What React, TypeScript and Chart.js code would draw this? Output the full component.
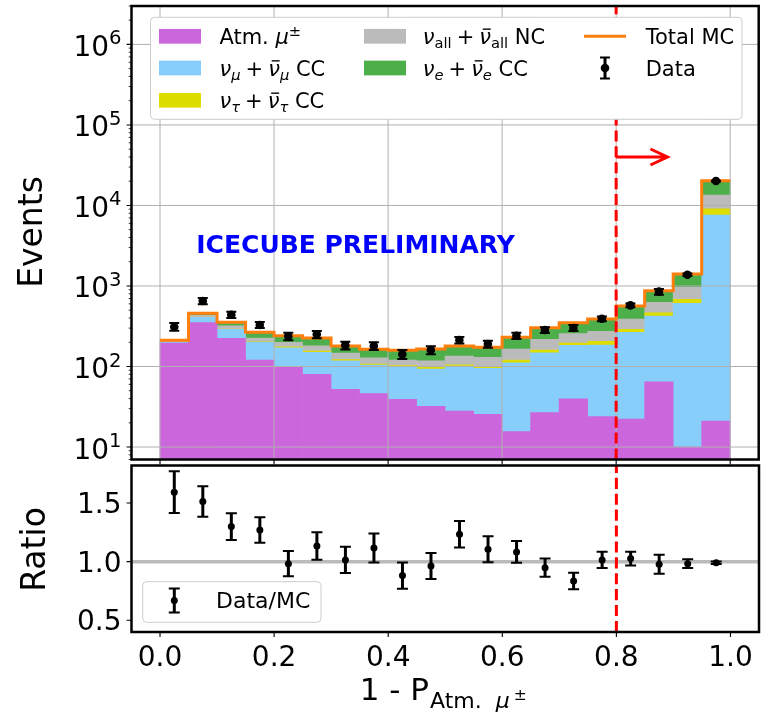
import React, { useEffect, useRef } from "react";
import { Chart, registerables } from "chart.js";
Chart.register(...registerables);

// ---------------- data ----------------
const BIN_EDGES = [0, 0.05, 0.1, 0.15, 0.2, 0.25, 0.3, 0.35, 0.4, 0.45, 0.5, 0.55, 0.6, 0.65, 0.7, 0.75, 0.8, 0.85, 0.9, 0.95, 1.0];
const BIN_CENTERS = [0.025, 0.075, 0.125, 0.175, 0.225, 0.275, 0.325, 0.375, 0.425, 0.475, 0.525, 0.575, 0.625, 0.675, 0.725, 0.775, 0.825, 0.875, 0.925, 0.975];

const ATM_MU = [196, 350, 224, 120, 100, 80, 52, 46, 39, 32, 28, 25.5, 15.5, 26.7, 39.8, 23.8, 22.3, 64.7, 10, 21];
const NUMU_CC = [7, 58, 66, 80, 71, 70, 66, 58, 61, 61, 73, 69.5, 95.5, 121, 143, 161, 244, 359, 600, 7600];
const NUTAU_CC = [0.5, 2, 2, 3, 4, 5, 4, 3, 3, 5, 4, 4, 9, 12, 13, 21, 24, 42, 74, 1440];
const NC_ALL = [3, 22, 29, 23, 25, 25, 25, 21, 17, 20, 30, 31, 45, 58, 60, 68, 99, 161, 280, 4440];
const NUE_CC = [5, 26, 33, 40, 41, 46, 33, 36, 39, 47, 45, 43, 66, 85, 94, 115, 176, 248, 445, 6800];

const DATA = [312, 651, 440, 328, 237, 251, 183, 180, 142, 160, 213, 190, 241, 284, 301, 392, 575, 850, 1380, 20100];

const RATIO = [1.592, 1.512, 1.299, 1.27, 0.983, 1.134, 1.015, 1.117, 0.881, 0.963, 1.234, 1.106, 1.083, 0.949, 0.835, 1.015, 1.026, 0.978, 0.983, 0.991];
const RATIO_ERR = [0.178, 0.13, 0.114, 0.108, 0.107, 0.117, 0.112, 0.124, 0.112, 0.11, 0.113, 0.111, 0.093, 0.077, 0.071, 0.07, 0.058, 0.081, 0.038, 0.01];

const X_TICKS = [0, 0.2, 0.4, 0.6, 0.8, 1.0];
const X_TICK_LABELS = ["0.0", "0.2", "0.4", "0.6", "0.8", "1.0"];
const Y_TICKS_TOP = [1e1, 1e2, 1e3, 1e4, 1e5, 1e6];
const Y_TICK_EXP = ["1", "2", "3", "4", "5", "6"];
const Y_TICKS_RATIO = [0.5, 1.0, 1.5];
const Y_TICK_LABELS_RATIO = ["0.5", "1.0", "1.5"];

const CUT_X = 0.8;
const ARROW_X0 = 0.8;
const ARROW_X1 = 0.89;
const ARROW_Y = 4e4;
const PRELIM_X = 0.343;
const PRELIM_Y = 3.1e3;

// ---------------- layout / style ----------------
const W = 763;
const H = 716;
const LEFT = 131.5;
const RIGHT = 761.5;
const TOP_T = 6;
const TOP_B = 459.5;
const TOP_CANVAS_H = 470;
const OFF = 460;
const RAT_T = 465.5;
const RAT_B = 632;

const C_ATM = "#cc66dd";
const C_NUMU = "#87cefa";
const C_NUTAU = "#dddd00";
const C_NC = "#bbbbbb";
const C_NUE = "#4daf4a";
const C_TOTAL = "#ff7f0e";
const GRID = "#b0b0b0";

const TICK_FS = 28;
const LABEL_FS = 33;
const LEG_FS = 21;
const RLEG_FS = 22;

type Seg = { t: string; s: number; it?: boolean; b?: boolean; dy?: number; bar?: boolean; gap?: number };

function font(size: number, it = false, b = false) {
  return `${it ? "italic " : ""}${b ? "bold " : ""}${size}px "DejaVu Sans", sans-serif`;
}

function drawSegs(ctx: CanvasRenderingContext2D, x: number, y: number, segs: Seg[], align: "left" | "right" | "center") {
  ctx.textAlign = "left";
  ctx.textBaseline = "alphabetic";
  const ws = segs.map((sg) => {
    ctx.font = font(sg.s, sg.it, sg.b);
    return ctx.measureText(sg.t).width + (sg.gap || 0);
  });
  const tot = ws.reduce((a, b) => a + b, 0);
  let cx = align === "left" ? x : align === "right" ? x - tot : x - tot / 2;
  segs.forEach((sg, i) => {
    ctx.font = font(sg.s, sg.it, sg.b);
    const gx = cx + (sg.gap || 0);
    const by = y + (sg.dy || 0);
    ctx.fillText(sg.t, gx, by);
    if (sg.bar) {
      const w = ws[i] - (sg.gap || 0);
      ctx.save();
      ctx.lineWidth = Math.max(1, sg.s * 0.065);
      ctx.strokeStyle = ctx.fillStyle as string;
      ctx.beginPath();
      ctx.moveTo(gx + w * 0.3, by - sg.s * 0.7);
      ctx.lineTo(gx + w * 0.98, by - sg.s * 0.7);
      ctx.stroke();
      ctx.restore();
    }
    cx += ws[i];
  });
}

function nuLabel(sub: string, subIt: boolean, tail: string, F: number): Seg[] {
  return [
    { t: "ν", s: F, it: true },
    { t: sub, s: F * 0.7, it: subIt, dy: F * 0.22 },
    { t: "+", s: F, gap: F * 0.24 },
    { t: "ν", s: F, it: true, bar: true, gap: F * 0.24 },
    { t: sub, s: F * 0.7, it: subIt, dy: F * 0.22 },
    { t: " " + tail, s: F },
  ];
}

const LEGEND_LABELS: Seg[][] = [
  [
    { t: "Atm. ", s: LEG_FS },
    { t: "μ", s: LEG_FS, it: true },
    { t: "±", s: LEG_FS * 0.7, dy: -LEG_FS * 0.38 },
  ],
  nuLabel("μ", true, "CC", LEG_FS),
  nuLabel("τ", true, "CC", LEG_FS),
  nuLabel("all", false, "NC", LEG_FS),
  nuLabel("e", true, "CC", LEG_FS),
  [{ t: "Total MC", s: LEG_FS }],
  [{ t: "Data", s: LEG_FS }],
];
const LEGEND_COLORS = [C_ATM, C_NUMU, C_NUTAU, C_NC, C_NUE];

function roundRect(ctx: CanvasRenderingContext2D, x0: number, y0: number, x1: number, y1: number, r: number) {
  ctx.beginPath();
  ctx.moveTo(x0 + r, y0);
  ctx.lineTo(x1 - r, y0);
  ctx.quadraticCurveTo(x1, y0, x1, y0 + r);
  ctx.lineTo(x1, y1 - r);
  ctx.quadraticCurveTo(x1, y1, x1 - r, y1);
  ctx.lineTo(x0 + r, y1);
  ctx.quadraticCurveTo(x0, y1, x0, y1 - r);
  ctx.lineTo(x0, y0 + r);
  ctx.quadraticCurveTo(x0, y0, x0 + r, y0);
  ctx.closePath();
}

function errBar(ctx: CanvasRenderingContext2D, px: number, y0: number, y1: number, cap: number, lw: number) {
  ctx.lineWidth = lw;
  ctx.beginPath();
  ctx.moveTo(px, y0);
  ctx.lineTo(px, y1);
  ctx.stroke();
  ctx.lineWidth = 2;
  ctx.beginPath();
  ctx.moveTo(px - cap, y0);
  ctx.lineTo(px + cap, y0);
  ctx.moveTo(px - cap, y1);
  ctx.lineTo(px + cap, y1);
  ctx.stroke();
}

function dashedCut(chart: any) {
  const { ctx, chartArea: a, scales } = chart;
  const px = scales.x.getPixelForValue(CUT_X);
  ctx.save();
  ctx.strokeStyle = "#ff0000";
  ctx.lineWidth = 3;
  ctx.setLineDash([11.1, 4.8]);
  ctx.beginPath();
  ctx.moveTo(px, a.bottom);
  ctx.lineTo(px, a.top);
  ctx.stroke();
  ctx.restore();
}

function frame(chart: any) {
  const { ctx, chartArea: a } = chart;
  ctx.save();
  ctx.strokeStyle = "#000";
  ctx.lineWidth = 2.5;
  ctx.strokeRect(a.left, a.top, a.right - a.left, a.bottom - a.top);
  ctx.restore();
}

const TOTAL = BIN_CENTERS.map((_, i) => ATM_MU[i] + NUMU_CC[i] + NUTAU_CC[i] + NC_ALL[i] + NUE_CC[i]);

const topPlugin = {
  id: "topDecor",
  afterDatasetDraw(chart: any, args: any) {
    if (args.index !== 0) return;
    const { ctx, chartArea: a, scales } = chart;
    ctx.save();
    ctx.strokeStyle = GRID;
    ctx.lineWidth = 1;
    ctx.beginPath();
    X_TICKS.forEach((v) => {
      const p = scales.x.getPixelForValue(v);
      ctx.moveTo(p, a.top);
      ctx.lineTo(p, a.bottom);
    });
    Y_TICKS_TOP.forEach((v) => {
      const p = scales.y.getPixelForValue(v);
      ctx.moveTo(a.left, p);
      ctx.lineTo(a.right, p);
    });
    ctx.stroke();
    ctx.restore();
  },
  afterDatasetsDraw(chart: any) {
    const { ctx, scales } = chart;
    dashedCut(chart);
    ctx.save();
    ctx.strokeStyle = "#000";
    BIN_CENTERS.forEach((xv, i) => {
      const e = (DATA[i] * RATIO_ERR[i]) / RATIO[i];
      const px = scales.x.getPixelForValue(xv);
      errBar(ctx, px, scales.y.getPixelForValue(DATA[i] + e), scales.y.getPixelForValue(DATA[i] - e), 5, 3);
    });
    ctx.restore();
  },
  afterDraw(chart: any) {
    const { ctx, chartArea: a, scales } = chart;
    const x = scales.x;
    const y = scales.y;
    frame(chart);
    ctx.save();
    ctx.strokeStyle = "#000";
    ctx.fillStyle = "#000";
    ctx.lineWidth = 1.1;
    ctx.beginPath();
    X_TICKS.forEach((v) => {
      const p = x.getPixelForValue(v);
      ctx.moveTo(p, a.bottom);
      ctx.lineTo(p, a.bottom + 4.9);
    });
    Y_TICKS_TOP.forEach((v) => {
      const p = y.getPixelForValue(v);
      ctx.moveTo(a.left, p);
      ctx.lineTo(a.left - 4.9, p);
    });
    ctx.stroke();
    ctx.lineWidth = 0.8;
    ctx.beginPath();
    for (let d = 0; d <= 6; d++) {
      for (let k = 2; k <= 9; k++) {
        const v = k * Math.pow(10, d);
        if (v < y.min || v > y.max) continue;
        const p = y.getPixelForValue(v);
        ctx.moveTo(a.left, p);
        ctx.lineTo(a.left - 2.8, p);
      }
    }
    ctx.stroke();
    Y_TICKS_TOP.forEach((v, i) => {
      const p = y.getPixelForValue(v);
      drawSegs(ctx, a.left - 10, p + 11.5, [
        { t: "10", s: TICK_FS },
        { t: Y_TICK_EXP[i], s: TICK_FS * 0.7, dy: -11.5 },
      ], "right");
    });
    ctx.save();
    ctx.translate(42, 232);
    ctx.rotate(-Math.PI / 2);
    ctx.font = font(LABEL_FS);
    ctx.textAlign = "center";
    ctx.textBaseline = "alphabetic";
    ctx.fillText("Events", 0, 0);
    ctx.restore();
    ctx.fillStyle = "#0000ff";
    ctx.font = font(25, false, true);
    ctx.textAlign = "center";
    ctx.textBaseline = "middle";
    ctx.fillText("ICECUBE PRELIMINARY", x.getPixelForValue(PRELIM_X), y.getPixelForValue(PRELIM_Y));
    const ax0 = x.getPixelForValue(ARROW_X0);
    const ax1 = x.getPixelForValue(ARROW_X1);
    const ay = y.getPixelForValue(ARROW_Y);
    ctx.strokeStyle = "#ff0000";
    ctx.lineWidth = 3;
    ctx.lineCap = "butt";
    ctx.beginPath();
    ctx.moveTo(ax0, ay);
    ctx.lineTo(ax1, ay);
    ctx.moveTo(ax1 - 17, ay - 8);
    ctx.lineTo(ax1, ay);
    ctx.lineTo(ax1 - 17, ay + 8);
    ctx.stroke();
    const L0 = 150.5, L1 = 742, T0 = 17.3, T1 = 119.3;
    roundRect(ctx, L0, T0, L1, T1, 4);
    ctx.fillStyle = "#ffffff";
    ctx.fill();
    ctx.strokeStyle = "#cccccc";
    ctx.lineWidth = 1;
    ctx.stroke();
    const rows = [36.3, 68, 100.3];
    const colX = [159, 364, 584];
    const textX = [219.4, 422.7, 645.7];
    const hw = LEG_FS * 2, hh = LEG_FS * 0.7;
    const slots = [
      [0, 0], [0, 1], [0, 2], [1, 0], [1, 1], [2, 0], [2, 1],
    ];
    slots.forEach(([c, r], i) => {
      const ry = rows[r];
      if (i < 5) {
        ctx.fillStyle = LEGEND_COLORS[i];
        ctx.fillRect(colX[c], ry - hh / 2, hw, hh);
      } else if (i === 5) {
        ctx.strokeStyle = C_TOTAL;
        ctx.lineWidth = 3;
        ctx.beginPath();
        ctx.moveTo(colX[c], ry);
        ctx.lineTo(colX[c] + hw, ry);
        ctx.stroke();
      } else {
        const mx = colX[c] + hw / 2;
        ctx.strokeStyle = "#000";
        errBar(ctx, mx, ry - 10.5, ry + 10.5, 5, 3);
        ctx.fillStyle = "#000";
        ctx.beginPath();
        ctx.arc(mx, ry, 4.3, 0, Math.PI * 2);
        ctx.fill();
      }
      ctx.fillStyle = "#000";
      drawSegs(ctx, textX[c], ry + LEG_FS * 0.36, LEGEND_LABELS[i], "left");
    });
    ctx.restore();
  },
};

const ratioPlugin = {
  id: "ratioDecor",
  afterDatasetsDraw(chart: any) {
    const { ctx, scales } = chart;
    dashedCut(chart);
    ctx.save();
    ctx.strokeStyle = "#000";
    BIN_CENTERS.forEach((xv, i) => {
      const px = scales.x.getPixelForValue(xv);
      errBar(ctx, px, scales.y.getPixelForValue(RATIO[i] + RATIO_ERR[i]), scales.y.getPixelForValue(RATIO[i] - RATIO_ERR[i]), 5.5, 3);
    });
    ctx.restore();
  },
  afterDraw(chart: any) {
    const { ctx, chartArea: a, scales } = chart;
    const x = scales.x;
    const y = scales.y;
    frame(chart);
    ctx.save();
    ctx.strokeStyle = "#000";
    ctx.fillStyle = "#000";
    ctx.lineWidth = 1.1;
    ctx.beginPath();
    X_TICKS.forEach((v) => {
      const p = x.getPixelForValue(v);
      ctx.moveTo(p, a.bottom);
      ctx.lineTo(p, a.bottom + 4.9);
    });
    Y_TICKS_RATIO.forEach((v) => {
      const p = y.getPixelForValue(v);
      ctx.moveTo(a.left, p);
      ctx.lineTo(a.left - 4.9, p);
    });
    ctx.stroke();
    ctx.font = font(TICK_FS);
    ctx.textBaseline = "alphabetic";
    ctx.textAlign = "center";
    X_TICKS.forEach((v, i) => {
      ctx.fillText(X_TICK_LABELS[i], x.getPixelForValue(v), 666 - OFF);
    });
    ctx.textAlign = "right";
    Y_TICKS_RATIO.forEach((v, i) => {
      ctx.fillText(Y_TICK_LABELS_RATIO[i], a.left - 10, y.getPixelForValue(v) + TICK_FS * 0.364);
    });
    ctx.save();
    ctx.translate(44.5, 549.5 - OFF);
    ctx.rotate(-Math.PI / 2);
    ctx.font = font(LABEL_FS);
    ctx.textAlign = "center";
    ctx.fillText("Ratio", 0, 0);
    ctx.restore();
    drawSegs(ctx, (a.left + a.right) / 2 - 2, 700 - OFF, [
      { t: "1 - P", s: 31 },
      { t: "Atm.", s: 22, dy: 8, gap: 1 },
      { t: "μ", s: 22, it: true, dy: 8, gap: 14 },
      { t: "±", s: 15.5, dy: 0, gap: 4 },
    ], "center");
    const L0 = 142.7, L1 = 321, T0 = 581.7 - OFF, T1 = 622.3 - OFF;
    roundRect(ctx, L0, T0, L1, T1, 4);
    ctx.fillStyle = "rgba(255,255,255,0.8)";
    ctx.fill();
    ctx.strokeStyle = "#cccccc";
    ctx.lineWidth = 1;
    ctx.stroke();
    const my = 600.5 - OFF;
    ctx.strokeStyle = "#000";
    errBar(ctx, 174.3, my - 12, my + 12, 5.5, 3);
    ctx.fillStyle = "#000";
    ctx.beginPath();
    ctx.arc(174.3, my, 3.5, 0, Math.PI * 2);
    ctx.fill();
    ctx.font = font(RLEG_FS);
    ctx.textAlign = "left";
    ctx.fillText("Data/MC", 216, my + RLEG_FS * 0.36);
    ctx.restore();
  },
};

function barDs(label: string, vals: number[], color: string) {
  return {
    type: "bar" as const,
    label,
    data: BIN_CENTERS.map((x, i) => ({ x, y: vals[i] })),
    backgroundColor: color,
    borderWidth: 0,
    barPercentage: 1,
    categoryPercentage: 1,
    stack: "mc",
    order: 10,
  };
}

export default function App() {
  const topRef = useRef<HTMLCanvasElement>(null);
  const botRef = useRef<HTMLCanvasElement>(null);

  useEffect(() => {
    const top = new Chart(topRef.current as HTMLCanvasElement, {
      type: "bar",
      data: {
        datasets: [
          barDs("Atm. mu", ATM_MU, C_ATM),
          barDs("numu CC", NUMU_CC, C_NUMU),
          barDs("nutau CC", NUTAU_CC, C_NUTAU),
          barDs("NC", NC_ALL, C_NC),
          barDs("nue CC", NUE_CC, C_NUE),
          {
            type: "line",
            label: "Total MC",
            data: BIN_EDGES.map((x, i) => ({ x, y: TOTAL[Math.min(i, TOTAL.length - 1)] })),
            borderColor: C_TOTAL,
            borderWidth: 3,
            stepped: true,
            pointRadius: 0,
            fill: false,
            stack: "total",
            order: 5,
          },
          {
            type: "scatter",
            label: "Data",
            data: BIN_CENTERS.map((x, i) => ({ x, y: DATA[i] })),
            backgroundColor: "#000",
            borderColor: "#000",
            borderWidth: 0,
            pointRadius: 4.3,
            stack: "data",
            order: 1,
          },
        ] as any,
      },
      options: {
        animation: false,
        responsive: false,
        maintainAspectRatio: false,
        devicePixelRatio: 1,
        events: [],
        layout: { padding: { top: TOP_T, right: W - RIGHT, bottom: TOP_CANVAS_H - TOP_B, left: 0 } },
        plugins: { legend: { display: false }, tooltip: { enabled: false } },
        scales: {
          x: {
            type: "linear",
            offset: false,
            min: -0.05,
            max: 1.05,
            grid: { display: false, offset: false },
            ticks: { display: false },
            border: { display: false },
            afterFit: (s: any) => { s.height = 0; },
          },
          y: {
            type: "logarithmic",
            min: 7,
            max: 3e6,
            stacked: true,
            grid: { display: false },
            ticks: { display: false },
            border: { display: false },
            afterFit: (s: any) => { s.width = LEFT; },
          },
        },
      } as any,
      plugins: [topPlugin],
    });

    const bot = new Chart(botRef.current as HTMLCanvasElement, {
      type: "scatter",
      data: {
        datasets: [
          {
            type: "line",
            label: "unity",
            data: [{ x: -0.05, y: 1 }, { x: 1.05, y: 1 }],
            borderColor: "#bbbbbb",
            borderWidth: 3.5,
            pointRadius: 0,
            order: 2,
          },
          {
            type: "scatter",
            label: "Data/MC",
            data: BIN_CENTERS.map((x, i) => ({ x, y: RATIO[i] })),
            backgroundColor: "#000",
            borderColor: "#000",
            borderWidth: 0,
            pointRadius: 3.5,
            order: 1,
          },
        ] as any,
      },
      options: {
        animation: false,
        responsive: false,
        maintainAspectRatio: false,
        devicePixelRatio: 1,
        events: [],
        layout: { padding: { top: RAT_T - OFF, right: W - RIGHT, bottom: 0, left: 0 } },
        plugins: { legend: { display: false }, tooltip: { enabled: false } },
        scales: {
          x: {
            type: "linear",
            offset: false,
            min: -0.05,
            max: 1.05,
            grid: { display: false },
            ticks: { display: false },
            border: { display: false },
            afterFit: (s: any) => { s.height = H - OFF - (RAT_B - OFF); },
          },
          y: {
            type: "linear",
            min: 0.4,
            max: 1.82,
            grid: { display: false },
            ticks: { display: false },
            border: { display: false },
            afterFit: (s: any) => { s.width = LEFT; },
          },
        },
      } as any,
      plugins: [ratioPlugin],
    });

    return () => {
      top.destroy();
      bot.destroy();
    };
  }, []);

  return (
    <div style={{ position: "fixed", left: 0, top: 0, width: W, height: H, background: "#fff", overflow: "hidden" }}>
      <canvas ref={topRef} width={W} height={TOP_CANVAS_H} style={{ position: "absolute", left: 0, top: 0 }} />
      <canvas ref={botRef} width={W} height={H - OFF} style={{ position: "absolute", left: 0, top: OFF }} />
    </div>
  );
}
